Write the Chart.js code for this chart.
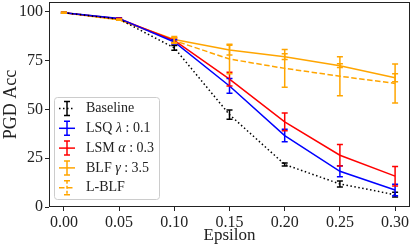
<!DOCTYPE html>
<html>
<head>
    <meta charset="UTF-8">
    <title>PGD Acc vs Epsilon</title>
    <script src="https://cdn.jsdelivr.net/npm/chart.js"></script>
    <style>
        body {
          margin: 0;
          padding: 0;
          background-color: #fff;
        }
        canvas {
          display: block;
        }
    </style>
</head>
<body>
<canvas id="accChart" width="415" height="246"></canvas>

<script>
    // data
    const epsilons = [0, 0.05, 0.10, 0.15, 0.20, 0.25, 0.30];
    const baseline = [99.5, 96.2, 81.5, 47.3, 21.8, 11.8, 6.3];
    const baselineErr = [0.2, 0.3, 1.2, 2.4, 0.8, 1.5, 1.2];
    const lsq = [99.5, 96.6, 84.5, 62.0, 36.6, 18.3, 8.7];
    const lsqErr = [0.2, 0.3, 1.2, 3.8, 3.2, 2.8, 3.0];
    const lsm = [99.5, 96.4, 85.3, 65.5, 43.6, 26.5, 15.8];
    const lsmErr = [0.2, 0.3, 1.2, 3.5, 4.6, 5.5, 5.0];
    const blf = [99.5, 95.9, 85.8, 80.4, 77.0, 72.4, 66.2];
    const blfErr = [0.2, 0.3, 1.5, 2.5, 1.5, 1.0, 2.0];
    const lblf = [99.5, 95.9, 85.2, 75.8, 71.0, 67.0, 63.3];
    const lblfErr = [0.2, 0.3, 1.5, 7.6, 9.7, 10.0, 10.0];

    const xTicks = [0, 0.05, 0.10, 0.15, 0.20, 0.25, 0.30];
    const yTicks = [0, 25, 50, 75, 100];

    const legendLabels = [
      [{t: "Baseline"}],
      [{t: "LSQ "}, {t: "λ", it: true}, {t: " : 0.1"}],
      [{t: "LSM "}, {t: "α", it: true}, {t: " : 0.3"}],
      [{t: "BLF "}, {t: "γ", it: true}, {t: " : 3.5"}],
      [{t: "L-BLF"}]
    ];

    const FONT = '"Liberation Serif", "DejaVu Serif", serif';
    const AXIS = "#222222";

    function series(values, errs, color, dash) {
      return {
        data: values.map((v, i) => ({x: epsilons[i], y: v})),
        errors: errs,
        borderColor: color,
        backgroundColor: color,
        borderWidth: 1.5,
        borderDash: dash,
        pointRadius: 0,
        tension: 0,
        fill: false
      };
    }

    const datasets = [
      series(baseline, baselineErr, "#000000", [1.5, 2.5]),
      series(lsq, lsqErr, "#0000ff", []),
      series(lsm, lsmErr, "#ff0000", []),
      series(blf, blfErr, "#ffa500", []),
      series(lblf, lblfErr, "#ffa500", [5.5, 2.5])
    ];

    function drawCapBar(ctx, x, yTop, yBot, color, cap, dash) {
      ctx.save();
      ctx.strokeStyle = color;
      ctx.lineWidth = 1.5;
      ctx.setLineDash(dash || []);
      ctx.beginPath();
      ctx.moveTo(x, yTop);
      ctx.lineTo(x, yBot);
      ctx.stroke();
      ctx.setLineDash([]);
      ctx.beginPath();
      ctx.moveTo(x - cap, yTop);
      ctx.lineTo(x + cap, yTop);
      ctx.moveTo(x - cap, yBot);
      ctx.lineTo(x + cap, yBot);
      ctx.stroke();
      ctx.restore();
    }

    const errorBars = {
      id: "errorBars",
      afterDatasetsDraw(chart) {
        const ctx = chart.ctx;
        const xs = chart.scales.x;
        const ys = chart.scales.y;
        chart.data.datasets.forEach(ds => {
          ds.data.forEach((p, i) => {
            const e = ds.errors[i];
            const px = xs.getPixelForValue(p.x);
            drawCapBar(ctx, px, ys.getPixelForValue(p.y + e), ys.getPixelForValue(p.y - e), ds.borderColor, 3);
          });
        });
        // frame on all four sides
        const a = chart.chartArea;
        ctx.save();
        ctx.strokeStyle = AXIS;
        ctx.lineWidth = 1;
        ctx.strokeRect(Math.round(a.left) + 0.5, Math.round(a.top) + 0.5,
          Math.round(a.right - a.left) - 1, Math.round(a.bottom - a.top) - 1);
        ctx.restore();
      }
    };

    const boxLegend = {
      id: "boxLegend",
      afterDraw(chart) {
        const ctx = chart.ctx;
        const a = chart.chartArea;
        const bx = a.left + 5, by = a.top + 95, bw = 105, bh = 102;
        ctx.save();
        ctx.fillStyle = "rgba(255,255,255,0.8)";
        ctx.strokeStyle = "#cccccc";
        ctx.lineWidth = 1;
        ctx.beginPath();
        ctx.roundRect(bx + 0.5, by + 0.5, bw, bh, 3);
        ctx.fill();
        ctx.stroke();
        chart.data.datasets.forEach((ds, i) => {
          const cy = by + 11.5 + i * 19.8;
          const x0 = bx + 5, x1 = bx + 21, xm = (x0 + x1) / 2;
          ctx.strokeStyle = ds.borderColor;
          ctx.lineWidth = 1.5;
          ctx.setLineDash(ds.borderDash);
          ctx.beginPath();
          ctx.moveTo(x0, cy);
          ctx.lineTo(x1, cy);
          ctx.stroke();
          ctx.setLineDash([]);
          drawCapBar(ctx, xm, cy - 7, cy + 7, ds.borderColor, 3, i === 4 ? [3, 2] : []);
          let tx = bx + 32;
          ctx.fillStyle = "#222";
          ctx.textBaseline = "middle";
          legendLabels[i].forEach(part => {
            ctx.font = (part.it ? "italic " : "") + "14px " + FONT;
            ctx.fillText(part.t, tx, cy);
            tx += ctx.measureText(part.t).width;
          });
        });
        ctx.restore();
      }
    };

    const ctx = document.getElementById("accChart").getContext("2d");
    new Chart(ctx, {
      type: "line",
      data: { datasets: datasets },
      plugins: [errorBars, boxLegend],
      options: {
        responsive: false,
        animation: false,
        layout: { padding: { top: 2, right: 5, left: 0, bottom: 0 } },
        plugins: {
          legend: { display: false },
          tooltip: { enabled: false }
        },
        scales: {
          x: {
            type: "linear",
            min: -0.0135,
            max: 0.3135,
            afterBuildTicks: s => { s.ticks = xTicks.map(v => ({value: v})); },
            afterFit: s => { s.height = 39; s.paddingLeft = 0; s.paddingRight = 0; },
            border: { display: false },
            grid: { drawOnChartArea: false, drawTicks: true, tickLength: 4, color: AXIS },
            ticks: {
              padding: 2.5,
              color: "#222",
              font: { family: FONT, size: 16 },
              callback: v => v.toFixed(2)
            },
            title: {
              display: true,
              text: "Epsilon",
              color: "#222",
              padding: { top: 0, bottom: 0 },
              font: { family: FONT, size: 17 }
            }
          },
          y: {
            min: 0,
            max: 105,
            afterBuildTicks: s => { s.ticks = yTicks.map(v => ({value: v})); },
            afterFit: s => { s.width = 49; s.paddingTop = 0; s.paddingBottom = 0; },
            border: { display: false },
            grid: { drawOnChartArea: false, drawTicks: true, tickLength: 4, color: AXIS },
            ticks: {
              padding: 2,
              color: "#222",
              font: { family: FONT, size: 16 },
              callback: v => String(v)
            },
            title: {
              display: true,
              text: "PGD Acc",
              color: "#222",
              padding: { top: 0, bottom: 0 },
              font: { family: FONT, size: 18 }
            }
          }
        }
      }
    });
</script>
</body>
</html>
